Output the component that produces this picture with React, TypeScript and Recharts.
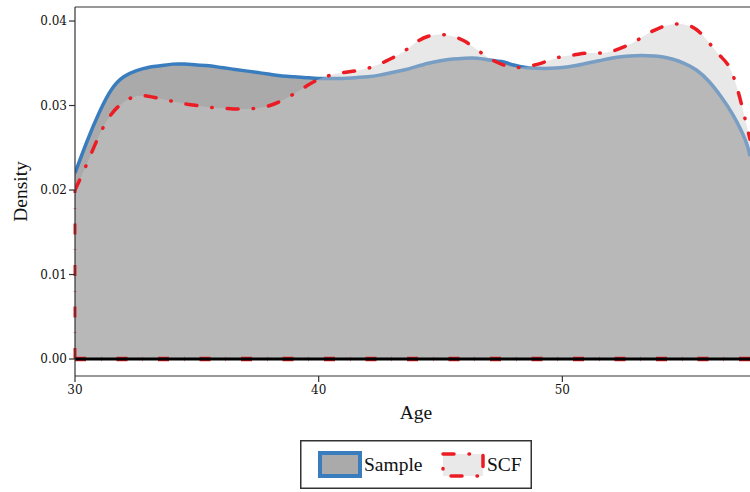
import React from "react";
import {
  ComposedChart,
  Area,
  Line,
  XAxis,
  YAxis,
  ReferenceLine,
} from "recharts";

// age grid of the two density curves
const ages = [
  30, 30.5, 31, 31.5, 32, 32.5, 33, 33.5, 34, 34.5, 35, 35.5, 36, 36.5, 37, 37.5,
  38, 38.5, 39, 39.5, 40, 40.5, 41, 41.5, 42, 42.5, 43, 43.5, 44, 44.5, 45, 45.5,
  46, 46.5, 47, 47.5, 48, 48.5, 49, 49.5, 50, 50.5, 51, 51.5, 52, 52.5, 53, 53.5,
  54, 54.5, 55, 55.5, 56, 56.5, 57, 57.5, 57.7,
];

const sampleDensity = [
  0.022, 0.0258, 0.0292, 0.0319, 0.0334, 0.0341, 0.0345, 0.0347, 0.0349, 0.0349,
  0.0348, 0.0347, 0.0345, 0.0343, 0.0341, 0.0339, 0.0337, 0.0335, 0.0334, 0.0333,
  0.0332, 0.0332, 0.0332, 0.0333, 0.0334, 0.0336, 0.0339, 0.0342, 0.0346, 0.035,
  0.0353, 0.0355, 0.0356, 0.0356, 0.0354, 0.0352, 0.0348, 0.0345, 0.0344, 0.0344,
  0.0345, 0.0347, 0.035, 0.0353, 0.0356, 0.0358, 0.0359, 0.0359, 0.0358, 0.0355,
  0.035, 0.0342, 0.0329, 0.0311, 0.0289, 0.026, 0.024,
];

const scfDensity = [
  0.02, 0.0232, 0.0265, 0.029, 0.0304, 0.0311, 0.0311, 0.0308, 0.0305, 0.0302,
  0.03, 0.0298, 0.0297, 0.0296, 0.0296, 0.0297, 0.03, 0.0306, 0.0314, 0.0323,
  0.0331, 0.0336, 0.0339, 0.0341, 0.0344, 0.0349, 0.0356, 0.0364, 0.0375, 0.0382,
  0.0384, 0.0382, 0.0376, 0.0366, 0.0356, 0.0349, 0.0345, 0.0346, 0.0349, 0.0354,
  0.0358, 0.036, 0.0362, 0.0362, 0.0364, 0.0369, 0.0376, 0.0385, 0.0392, 0.0396,
  0.0396, 0.039, 0.0375, 0.0358, 0.0336, 0.0284, 0.026,
];

const xTicks = [30, 40, 50];
const yTicks = [0, 0.01, 0.02, 0.03, 0.04];
const xDomain = [30, 57.7];
const yDomain = [-0.00201, 0.04166];

const data = ages.map((age, i) => ({
  age,
  sample: sampleDensity[i],
  scf: scfDensity[i],
}));

const BLUE = "#3a7dbf";
const RED = "#ec1c24";
const SAMPLE_FILL = "#aaaaaa";
const SCF_FILL = "#cacaca";
const AXIS = "#333333";
const DASHDOT = "11 15 0.5 15";
const labelFont = "'Liberation Serif', serif";
const tickFont = "'DejaVu Serif', serif";

function Legend() {
  return (
    <svg
      width={232}
      height={49}
      style={{ position: "absolute", left: 300, top: 440 }}
    >
      <rect x={0.75} y={0.75} width={230.5} height={47.5} fill="#fff" stroke={AXIS} strokeWidth={1.5} />
      <rect x={20} y={13} width={40} height={23} fill={SAMPLE_FILL} stroke={BLUE} strokeWidth={4} />
      <text x={64} y={31} fontFamily={labelFont} fontSize={19.5} fill="#111">
        Sample
      </text>
      <rect x={143} y={14} width={40} height={22} fill="#e9e9e9" />
      <rect
        x={143}
        y={14}
        width={40}
        height={22}
        fill="none"
        stroke={RED}
        strokeWidth={3.5}
        strokeDasharray={DASHDOT}
        strokeLinecap="round"
      />
      <text x={187} y={31} fontFamily={labelFont} fontSize={19.5} fill="#111">
        SCF
      </text>
    </svg>
  );
}

export default function App() {
  return (
    <div style={{ position: "absolute", left: 0, top: 0, width: 750, height: 492, background: "#fff" }}>
      <ComposedChart
        width={750}
        height={492}
        data={data}
        margin={{ top: 7, right: 0, bottom: 0, left: 0 }}
      >
        <XAxis
          dataKey="age"
          type="number"
          domain={xDomain}
          ticks={xTicks}
          allowDataOverflow
          height={116}
          tickSize={6}
          tickMargin={3}
          stroke={AXIS}
          strokeWidth={1.2}
          tick={{ fontFamily: tickFont, fontSize: 12, fill: "#111" }}
          label={{
            content: ({ viewBox }: any) => (
              <text
                x={viewBox.x + viewBox.width / 2 + 3.5}
                y={viewBox.y + 43}
                textAnchor="middle"
                fontFamily={labelFont}
                fontSize={19.5}
                fill="#111"
              >
                Age
              </text>
            ),
          }}
        />
        <YAxis
          type="number"
          domain={yDomain}
          ticks={yTicks}
          allowDataOverflow
          width={75}
          tickSize={6}
          tickMargin={2}
          stroke={AXIS}
          strokeWidth={1.2}
          tickFormatter={(v: number) => v.toFixed(2)}
          tick={{ fontFamily: tickFont, fontSize: 12, fill: "#111" }}
          label={{
            content: ({ viewBox }: any) => (
              <text
                transform={`translate(${viewBox.x + 27},${viewBox.y + viewBox.height / 2}) rotate(-90)`}
                textAnchor="middle"
                fontFamily={labelFont}
                fontSize={19.5}
                fill="#111"
              >
                Density
              </text>
            ),
          }}
        />
        <ReferenceLine y={yDomain[1]} stroke={AXIS} strokeWidth={1.2} />
        <Area
          dataKey="sample"
          type="natural"
          fill={SAMPLE_FILL}
          fillOpacity={1}
          stroke={BLUE}
          strokeWidth={3.5}
          isAnimationActive={false}
          dot={false}
          activeDot={false}
        />
        <Area
          dataKey="scf"
          type="natural"
          fill={SCF_FILL}
          fillOpacity={0.435}
          stroke="none"
          isAnimationActive={false}
          dot={false}
          activeDot={false}
        />
        <Line
          dataKey="scf"
          type="natural"
          stroke={RED}
          strokeWidth={3.5}
          strokeDasharray={DASHDOT}
          strokeLinecap="round"
          dot={false}
          activeDot={false}
          isAnimationActive={false}
        />
        <ReferenceLine
          segment={[
            { x: ages[0], y: 0 },
            { x: ages[0], y: scfDensity[0] },
          ]}
          stroke={RED}
          strokeWidth={3}
          strokeDasharray={DASHDOT}
        />
        <ReferenceLine y={0} stroke={RED} strokeWidth={4.5} strokeDasharray={DASHDOT} />
        <ReferenceLine y={0} stroke="#000" strokeWidth={3.2} />
      </ComposedChart>
      <Legend />
    </div>
  );
}
